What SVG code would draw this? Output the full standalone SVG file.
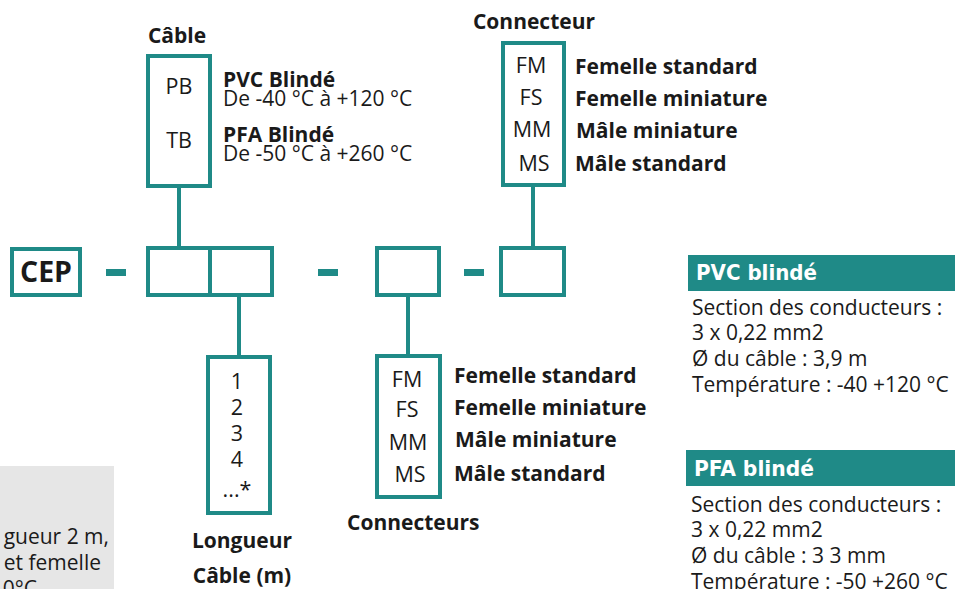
<svg xmlns="http://www.w3.org/2000/svg" width="955" height="589" viewBox="0 0 955 589">
<style>
.box{fill:none;stroke:#1f8a87;stroke-width:4}
.ln{stroke:#1f8a87;stroke-width:4;fill:none}
.dash{fill:#1f8a87}
text{font-family:"Open Sans","Noto Sans",sans-serif;fill:#1a1a1a}
.b{font-weight:bold;font-size:21px}
.r{font-size:21px}
.c{font-size:21.5px;text-anchor:middle}
.h{font-family:"DejaVu Sans Condensed","DejaVu Sans",sans-serif;font-weight:bold;font-size:21px;fill:#ffffff}
</style>
<rect width="955" height="589" fill="#ffffff"/>
<g id="connectors">
<line class="ln" x1="179" y1="188" x2="179" y2="247"/>
<line class="ln" x1="533" y1="187" x2="533" y2="247"/>
<line class="ln" x1="239" y1="296" x2="239" y2="357"/>
<line class="ln" x1="408" y1="296" x2="408" y2="356"/>
<rect class="dash" x="106" y="269" width="20" height="7"/>
<rect class="dash" x="318" y="269" width="20" height="7"/>
<rect class="dash" x="464" y="269" width="20" height="7"/>
</g>
<g id="cep">
<rect class="box" x="12" y="249" width="68" height="46"/>
<text x="46" y="282" font-weight="bold" font-size="28.5" text-anchor="middle">CEP</text>
</g>
<g id="cable-length-code">
<rect class="box" x="148" y="248" width="124" height="47"/>
<line class="ln" x1="210" y1="248" x2="210" y2="295"/>
</g>
<g id="connector-code-1">
<rect class="box" x="377" y="248" width="62" height="47"/>
</g>
<g id="connector-code-2">
<rect class="box" x="501" y="248" width="63" height="47"/>
</g>
<g id="cable">
<text class="b" x="177" y="43" text-anchor="middle">Câble</text>
<rect class="box" x="148" y="56" width="62" height="130"/>
<text class="c" x="179" y="94">PB</text>
<text class="c" x="179" y="148">TB</text>
<text class="b" x="223" y="87">PVC Blindé</text>
<text class="r" x="223" y="106">De -40 °C à +120 °C</text>
<text class="b" x="223" y="142">PFA Blindé</text>
<text class="r" x="223" y="161">De -50 °C à +260 °C</text>
</g>
<g id="connecteur-top">
<text class="b" x="534" y="29" text-anchor="middle">Connecteur</text>
<rect class="box" x="503" y="43" width="61" height="142"/>
<text class="c" x="531" y="73">FM</text>
<text class="c" x="531" y="105">FS</text>
<text class="c" x="532" y="137">MM</text>
<text class="c" x="534" y="171">MS</text>
<text class="b" x="575" y="74">Femelle standard</text>
<text class="b" x="575" y="106">Femelle miniature</text>
<text class="b" x="576" y="138">Mâle miniature</text>
<text class="b" x="575" y="171">Mâle standard</text>
</g>
<g id="longueur">
<rect class="box" x="208" y="357" width="62" height="156"/>
<text class="c" x="237" y="389">1</text>
<text class="c" x="237" y="415">2</text>
<text class="c" x="237" y="441">3</text>
<text class="c" x="237" y="467">4</text>
<text class="c" x="237" y="497">...*</text>
<text class="b" x="242" y="548" text-anchor="middle">Longueur</text>
<text class="b" x="242" y="583" text-anchor="middle">Câble (m)</text>
</g>
<g id="connecteurs-bottom">
<rect class="box" x="377" y="356" width="63" height="141"/>
<text class="c" x="407" y="387">FM</text>
<text class="c" x="407" y="417">FS</text>
<text class="c" x="408" y="450">MM</text>
<text class="c" x="410" y="482">MS</text>
<text class="b" x="454" y="383">Femelle standard</text>
<text class="b" x="454" y="415">Femelle miniature</text>
<text class="b" x="455" y="447">Mâle miniature</text>
<text class="b" x="454" y="481">Mâle standard</text>
<text class="b" x="347" y="530">Connecteurs</text>
</g>
<g id="pvc-info">
<rect x="688" y="255" width="267" height="36" fill="#1f8a87"/>
<text class="h" x="696" y="280" textLength="121" lengthAdjust="spacingAndGlyphs">PVC blindé</text>
<text class="r" x="692" y="315">Section des conducteurs :</text>
<text class="r" x="692" y="340">3 x 0,22 mm2</text>
<text class="r" x="692" y="366">Ø du câble : 3,9 m</text>
<text class="r" x="692" y="392">Température : -40 +120 °C</text>
</g>
<g id="pfa-info">
<rect x="686" y="450" width="269" height="36" fill="#1f8a87"/>
<text class="h" x="694" y="476" textLength="120" lengthAdjust="spacingAndGlyphs">PFA blindé</text>
<text class="r" x="691" y="512">Section des conducteurs :</text>
<text class="r" x="691" y="537">3 x 0,22 mm2</text>
<text class="r" x="691" y="563">Ø du câble : 3 3 mm</text>
<text class="r" x="691" y="589">Température : -50 +260 °C</text>
</g>
<g id="note">
<rect x="0" y="466" width="114" height="123" fill="#e6e6e6"/>
<text class="r" x="109" y="544" text-anchor="end">gueur 2 m,</text>
<text class="r" x="101" y="570" text-anchor="end">et femelle</text>
<text class="r" x="37" y="596" text-anchor="end">0°C</text>
</g>
</svg>
